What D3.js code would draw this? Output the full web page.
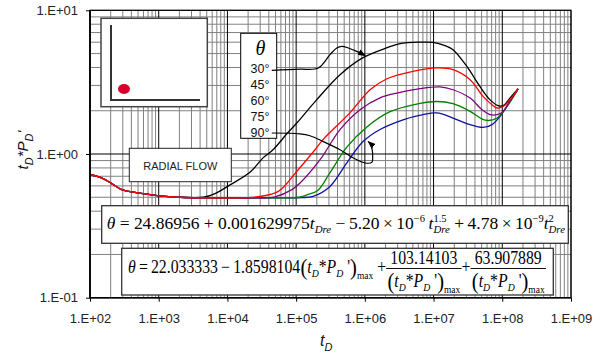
<!DOCTYPE html>
<html>
<head>
<meta charset="utf-8">
<script src="https://cdn.jsdelivr.net/npm/d3@7"></script>
<style>
  body { margin: 0; background: #fff; }
</style>
</head>
<body>
<svg id="chart" width="600" height="356" font-family="Liberation Sans, Arial, sans-serif"></svg>
<script>
// ---- axis ticks ----
const xTicks = [1e2, 1e3, 1e4, 1e5, 1e6, 1e7, 1e8, 1e9];
const xTickLabels = ["1.E+02", "1.E+03", "1.E+04", "1.E+05", "1.E+06", "1.E+07", "1.E+08", "1.E+09"];
const yTicks = [0.1, 1, 10];
const yTickLabels = ["1.E-01", "1.E+00", "1.E+01"];

// ---- derivative curves, one per inclination angle ----
const angleLabels = ["30°", "45°", "60°", "75°", "90°"];
const angleColors = ["#000000", "#ff0000", "#800080", "#008000", "#1010a0"];

const tD30 = [100, 150, 210, 290, 450, 800, 1400, 2400, 4500, 6600, 10900, 21300, 33000, 46000, 76000, 1.03e5, 2.0e5, 4.35e5, 9.4e5, 2.1e6, 3.25e6, 6.3e6, 9.8e6, 1.47e7, 1.92e7, 3.07e7, 4.75e7, 6.6e7, 8.7e7, 1.03e8, 1.3e8, 1.7e8];
const pD30 = [0.72, 0.68, 0.62, 0.565, 0.54, 0.52, 0.505, 0.498, 0.5, 0.53, 0.61, 0.745, 0.94, 1.07, 1.41, 1.65, 2.39, 3.56, 4.68, 5.49, 5.86, 6.0, 5.98, 5.67, 5.32, 4.05, 2.94, 2.39, 2.17, 2.17, 2.46, 2.85];

const tD45 = [100, 150, 210, 290, 450, 800, 1400, 2400, 5000, 10000, 18000, 28000, 55000, 1.07e5, 1.88e5, 2.46e5, 6.1e5, 1.19e6, 2.1e6, 5.0e6, 1.12e7, 1.92e7, 3.4e7, 5.25e7, 7.1e7, 8.4e7, 1.03e8, 1.3e8, 1.7e8];
const pD45 = [0.72, 0.68, 0.62, 0.565, 0.54, 0.52, 0.505, 0.498, 0.495, 0.495, 0.496, 0.504, 0.549, 0.777, 1.07, 1.26, 1.94, 2.80, 3.34, 3.76, 3.97, 3.86, 3.29, 2.52, 2.20, 2.09, 2.14, 2.39, 2.83];

const tD60 = [100, 150, 210, 290, 450, 800, 1400, 2400, 5000, 10000, 25000, 49000, 87000, 1.14e5, 2.23e5, 4.35e5, 8.5e5, 1.66e6, 3.25e6, 6.35e6, 1.24e7, 1.92e7, 3.4e7, 5.08e7, 6.64e7, 8.4e7, 1.03e8, 1.3e8, 1.7e8];
const pD60 = [0.72, 0.68, 0.62, 0.565, 0.54, 0.52, 0.505, 0.498, 0.495, 0.495, 0.495, 0.504, 0.565, 0.628, 0.913, 1.476, 2.03, 2.46, 2.68, 2.85, 2.93, 2.80, 2.45, 2.03, 1.88, 1.88, 1.98, 2.35, 2.84];

const tD75 = [100, 150, 210, 290, 450, 800, 1400, 2400, 5000, 20000, 60000, 1.1e5, 1.44e5, 2.08e5, 3.11e5, 5.5e5, 1.08e6, 2.33e6, 5.03e6, 1.12e7, 1.92e7, 3.4e7, 5.08e7, 6.2e7, 8.4e7, 1.08e8, 1.3e8, 1.7e8];
const pD75 = [0.72, 0.68, 0.62, 0.565, 0.54, 0.52, 0.505, 0.498, 0.495, 0.495, 0.495, 0.5, 0.52, 0.56, 0.741, 1.12, 1.55, 1.97, 2.20, 2.32, 2.24, 1.98, 1.75, 1.71, 1.78, 2.03, 2.3, 2.84];

const tD90 = [100, 150, 210, 290, 450, 800, 1400, 2400, 5000, 20000, 60000, 1.2e5, 1.76e5, 3.11e5, 5.5e5, 9.4e5, 1.66e6, 3.6e6, 7.0e6, 1.12e7, 1.92e7, 3.4e7, 5.25e7, 7.1e7, 9.3e7, 1.3e8, 1.7e8];
const pD90 = [0.72, 0.68, 0.62, 0.565, 0.54, 0.52, 0.505, 0.498, 0.495, 0.495, 0.495, 0.497, 0.507, 0.595, 0.87, 1.22, 1.48, 1.73, 1.88, 1.93, 1.78, 1.60, 1.53, 1.60, 1.83, 2.32, 2.84];

// ---- leader lines from the angle legend to the extreme curves ----
const lead30T = [44200, 1.14e5, 2.1e5, 3.11e5, 3.9e5, 4.61e5, 5.75e5, 7.63e5, 1.01e6];
const lead30V = [3.82, 3.89, 3.97, 4.91, 5.47, 5.61, 5.47, 5.18, 4.83];
const lead90T = [44200, 1.14e5, 1.59e5, 2.49e5, 4.35e5, 6.8e5, 1.01e6, 1.26e6, 1.30e6, 1.22e6, 1.12e6];
const lead90V = [1.40, 1.38, 1.34, 1.22, 1.07, 0.938, 0.866, 0.874, 0.962, 1.16, 1.22];

const series = [
  { t: tD30, v: pD30 }, { t: tD45, v: pD45 }, { t: tD60, v: pD60 },
  { t: tD75, v: pD75 }, { t: tD90, v: pD90 }
].map((s, i) => ({ label: angleLabels[i], color: angleColors[i], pts: s.t.map((t, j) => [t, s.v[j]]) }));

// ---- layout ----
const SERIF = "Liberation Serif, Times New Roman, serif";
const SANS = "Liberation Sans, Arial, sans-serif";
const svg = d3.select("#chart");
const L = 90, R = 571, T = 10.3, B = 297.7;
const x = d3.scaleLog().domain([1e2, 1e9]).range([L, R]);
const y = d3.scaleLog().domain([0.1, 10]).range([B, T]);

svg.append("rect").attr("x", L).attr("y", T).attr("width", R - L).attr("height", B - T).attr("fill", "#fff");

// minor grid (2..9 in every decade)
const minorX = [], minorY = [];
for (let e = 2; e < 9; e++) for (let k = 2; k <= 9; k++) minorX.push(k * Math.pow(10, e));
for (let e = -1; e < 1; e++) for (let k = 2; k <= 9; k++) minorY.push(k * Math.pow(10, e));
const grid = svg.append("g");
grid.selectAll(".mx").data(minorX).join("line")
  .attr("x1", d => x(d)).attr("x2", d => x(d)).attr("y1", T).attr("y2", B)
  .attr("stroke", "#808080").attr("stroke-width", 1);
grid.selectAll(".my").data(minorY).join("line")
  .attr("x1", L).attr("x2", R).attr("y1", d => y(d)).attr("y2", d => y(d))
  .attr("stroke", "#808080").attr("stroke-width", 1);
grid.selectAll(".Mx").data(xTicks).join("line")
  .attr("x1", d => x(d)).attr("x2", d => x(d)).attr("y1", T).attr("y2", B)
  .attr("stroke", "#000").attr("stroke-width", 1);
grid.selectAll(".My").data(yTicks).join("line")
  .attr("x1", L).attr("x2", R).attr("y1", d => y(d)).attr("y2", d => y(d))
  .attr("stroke", "#000").attr("stroke-width", 1);

// curves
const line = d3.line().x(d => x(d[0])).y(d => y(d[1])).curve(d3.curveCatmullRom.alpha(0.5));
const drawOrder = [0, 4, 3, 2, 1];
svg.append("g").selectAll("path").data(drawOrder.map(i => series[i])).join("path")
  .attr("d", d => line(d.pts)).attr("fill", "none")
  .attr("stroke", d => d.color).attr("stroke-width", 1.3);

// axes
const xAxis = svg.append("g").attr("transform", `translate(0,${B})`)
  .call(d3.axisBottom(x).tickValues(xTicks).tickFormat((d, i) => xTickLabels[i]).tickSize(4).tickSizeOuter(0));
xAxis.select(".domain").remove();
xAxis.selectAll("text").attr("y", 16).attr("font-size", 13).attr("fill", "#222").attr("font-family", SANS);
const yAxis = svg.append("g").attr("transform", `translate(${L},0)`)
  .call(d3.axisLeft(y).tickValues(yTicks).tickFormat((d, i) => yTickLabels[i]).tickSize(4).tickSizeOuter(0));
yAxis.select(".domain").remove();
yAxis.selectAll("text").attr("x", -12).attr("font-size", 13).attr("fill", "#222").attr("font-family", SANS);

// frame
svg.append("rect").attr("x", L).attr("y", T).attr("width", R - L).attr("height", B - T)
  .attr("fill", "none").attr("stroke", "#000").attr("stroke-width", 1);
svg.append("path").attr("d", `M${L},${T}V${B}H${R}`).attr("fill", "none")
  .attr("stroke", "#000").attr("stroke-width", 1.6);

// axis titles
const xt = svg.append("text").attr("x", 320).attr("y", 346).attr("font-size", 16).attr("font-style", "italic").attr("fill", "#111");
xt.append("tspan").text("t");
xt.append("tspan").attr("dy", 5).attr("font-size", 11).text("D");
const yt = svg.append("text").attr("transform", "translate(28,150) rotate(-90)").attr("text-anchor", "middle")
  .attr("font-size", 15).attr("font-style", "italic").attr("fill", "#111");
yt.append("tspan").text("t");
yt.append("tspan").attr("dy", 5).attr("font-size", 11).text("D");
yt.append("tspan").attr("dy", -5).text("*P");
yt.append("tspan").attr("dy", 5).attr("font-size", 11).text("D");
yt.append("tspan").attr("dy", -5).text("'");

// well sketch inset
const inset = svg.append("g");
inset.append("rect").attr("x", 101).attr("y", 18.3).attr("width", 106.3).attr("height", 88.4)
  .attr("fill", "#fff").attr("stroke", "#444").attr("stroke-width", 1.5);
inset.append("path").attr("d", "M111,25V100H200").attr("fill", "none").attr("stroke", "#333").attr("stroke-width", 2);
inset.append("ellipse").attr("cx", 124).attr("cy", 89).attr("rx", 6).attr("ry", 5).attr("fill", "#d9002a");

// radial flow label
svg.append("rect").attr("x", 129.3).attr("y", 148.3).attr("width", 102).attr("height", 33.4)
  .attr("fill", "#fff").attr("stroke", "#222").attr("stroke-width", 1);
svg.append("text").attr("x", 180.3).attr("y", 170).attr("text-anchor", "middle")
  .attr("font-size", 11).attr("fill", "#222").text("RADIAL FLOW");

// angle legend
const leg = svg.append("g");
leg.append("rect").attr("x", 240.7).attr("y", 33.3).attr("width", 36).attr("height", 105)
  .attr("fill", "#fff").attr("stroke", "#000").attr("stroke-width", 1);
leg.append("text").attr("x", 260.5).attr("y", 55).attr("text-anchor", "middle")
  .attr("font-family", SERIF).attr("font-style", "italic")
  .attr("font-size", 20).text("θ");
const legBase = [73.3, 89.3, 104.8, 121, 136.7];
leg.selectAll(".al").data(angleLabels).join("text")
  .attr("x", 250.5).attr("y", (d, i) => legBase[i]).attr("font-size", 12.5).attr("fill", "#111").text(d => d);

// equation boxes
svg.append("rect").attr("x", 101.7).attr("y", 205.7).attr("width", 466.6).attr("height", 37.6)
  .attr("fill", "#fff").attr("stroke", "#333").attr("stroke-width", 1.3);
svg.append("rect").attr("x", 121.7).attr("y", 248.3).attr("width", 431.6).attr("height", 46.7)
  .attr("fill", "#fff").attr("stroke", "#333").attr("stroke-width", 1.3);

function piece(parent, p, px, size) {
  const el = parent.append("text").attr("x", px).attr("y", p.dy || 0)
    .attr("font-family", SERIF)
    .attr("font-size", size * (p.s || 1)).attr("font-style", p.it ? "italic" : "normal")
    .attr("fill", "#000").text(p.t);
  return el.node().getComputedTextLength();
}
function mathRun(parent, items, size) {
  let cx = 0;
  for (const it of items) {
    if (it.stack) {
      let w = 0;
      for (const q of it.stack) w = Math.max(w, piece(parent, q, cx, size));
      cx += w;
    } else if (it.frac) {
      const gn = parent.append("g"), gd = parent.append("g");
      const wn = mathRun(gn, it.frac[0], size), wd = mathRun(gd, it.frac[1], size);
      const w = Math.max(wn, wd) + 3;
      gn.attr("transform", `translate(${cx + (w - wn) / 2},${it.numDy})`);
      gd.attr("transform", `translate(${cx + (w - wd) / 2},${it.denDy})`);
      parent.append("line").attr("x1", cx).attr("x2", cx + w).attr("y1", it.barDy).attr("y2", it.barDy)
        .attr("stroke", "#000").attr("stroke-width", 1);
      cx += w;
    } else cx += piece(parent, it, cx, size);
  }
  return cx;
}
function placeEq(items, size, x0, x1, baseline) {
  const outer = svg.append("g");
  const inner = outer.append("g");
  const w = mathRun(inner, items, size);
  outer.attr("transform", `translate(${x0},${baseline}) scale(${(x1 - x0) / w},1)`);
}
const NB = "\u00a0", TS = "\u2009";
const sub = t => ({ t, it: 1, s: 0.62, dy: 4 });
const sup = t => ({ t, s: 0.6, dy: -7 });

placeEq([
  { t: "θ", it: 1 },
  { t: `${NB}=${NB}24.86956${NB}+${NB}0.001629975` },
  { t: "t", it: 1 }, sub("Dre"),
  { t: `${NB}−${TS}5.20${TS}×${TS}10` }, sup("−6"),
  { t: `${TS}t`, it: 1 }, { stack: [sup("1.5"), sub("Dre")] },
  { t: `${NB}+${TS}4.78${TS}×${TS}10` }, sup("−9"),
  { t: "t", it: 1 }, { stack: [sup("2"), sub("Dre")] }
], 17.5, 106.7, 565, 229);

const dSub = t => ({ t, it: 1, s: 0.62, dy: 4 });
const mx = { t: "max", s: 0.6, dy: 6 };
const paren = t => ({ t, s: 1.3, dy: 1.5 });
const tdpd = [paren("("), { t: "t", it: 1 }, dSub("D"), { t: "*" }, { t: "P", it: 1 }, dSub("D"), { t: `${NB}'` }, paren(")"), mx];
placeEq([
  { t: "θ", it: 1 },
  { t: `${TS}=${TS}22.033333${TS}−${TS}1.8598104` },
  ...tdpd,
  { t: `${NB}+` },
  { frac: [[{ t: "103.14103" }], tdpd], numDy: -9, barDy: -4.5, denDy: 14 },
  { t: "+" },
  { frac: [[{ t: "63.907889" }], tdpd], numDy: -9, barDy: -4.5, denDy: 14 }
], 18, 128, 546, 273);

// leader lines with arrowheads
svg.append("defs").append("marker").attr("id", "arrowHead")
  .attr("viewBox", "0 0 10 8").attr("refX", 9).attr("refY", 4)
  .attr("markerWidth", 8).attr("markerHeight", 6.5).attr("markerUnits", "userSpaceOnUse")
  .attr("orient", "auto")
  .append("path").attr("d", "M0,0L10,4L0,8Z").attr("fill", "#000");
const leaders = [lead30T.map((t, i) => [t, lead30V[i]]), lead90T.map((t, i) => [t, lead90V[i]])];
svg.append("g").selectAll("path").data(leaders).join("path")
  .attr("d", d => line(d)).attr("fill", "none").attr("stroke", "#000").attr("stroke-width", 1.2)
  .attr("marker-end", "url(#arrowHead)");
</script>
</body>
</html>
